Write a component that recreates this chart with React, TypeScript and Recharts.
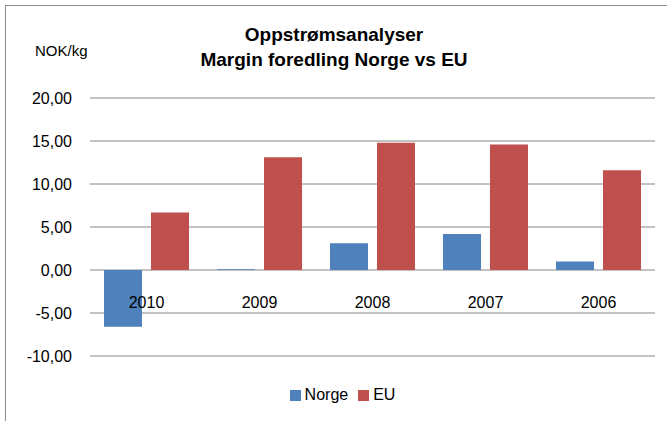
import React from 'react';
import { BarChart, Bar, XAxis, YAxis, CartesianGrid, Legend } from 'recharts';

// år (Excel-rekkefølge, nyeste først)
const years = ['2010', '2009', '2008', '2007', '2006'];
// margin foredling, NOK/kg
const norge = [-6.6, 0.1, 3.1, 4.2, 1.0];
const eu = [6.7, 13.1, 14.8, 14.6, 11.6];
const yTicks = [-10, -5, 0, 5, 10, 15, 20];
const seriesOrder = ['Norge', 'EU'];

const data = years.map((year, i) => ({ year, Norge: norge[i], EU: eu[i] }));

const font = '"Liberation Sans", Arial, sans-serif';

// årstall ligger rett under 0-linja, ikke under aksen nederst
const YearTick = (props: any) => {
  const { x, y, payload } = props;
  return (
    <text x={x} y={y - 48} textAnchor="middle" fontSize={16} fill="#000" fontFamily={font}>
      {payload.value}
    </text>
  );
};

export default function App() {
  return (
    <div
      style={{
        position: 'fixed',
        left: 0,
        top: 0,
        width: 667,
        height: 421,
        overflow: 'hidden',
        background: '#fff',
        fontFamily: font,
      }}
    >
      <div
        style={{
          position: 'absolute',
          left: 5,
          top: 5,
          width: 700,
          height: 500,
          border: '1px solid #8c8c8c',
        }}
      />
      <div
        style={{
          position: 'absolute',
          left: 0,
          width: 668,
          top: 22,
          textAlign: 'center',
          fontWeight: 'bold',
          fontSize: 19,
          lineHeight: '25px',
          color: '#000',
        }}
      >
        Oppstrømsanalyser
        <br />
        Margin foredling Norge vs EU
      </div>
      <div style={{ position: 'absolute', left: 35, top: 42, fontSize: 15, color: '#000' }}>NOK/kg</div>
      <div style={{ position: 'absolute', left: 0, top: 0 }}>
        <BarChart
          width={667}
          height={421}
          data={data}
          margin={{ top: 98, right: 12, left: 0, bottom: 5 }}
          barCategoryGap={14}
          barGap={9}
        >
          <CartesianGrid vertical={false} stroke="#868686" strokeWidth={1} />
          <XAxis
            dataKey="year"
            axisLine={false}
            tickLine={false}
            tickSize={0}
            tickMargin={0}
            height={30}
            interval={0}
            tick={<YearTick />}
          />
          <YAxis
            domain={[-10, 20]}
            ticks={yTicks}
            interval={0}
            width={90}
            axisLine={false}
            tickLine={false}
            tickSize={0}
            tickMargin={18}
            tick={{ fontSize: 16, fill: '#000', fontFamily: font }}
            tickFormatter={(v: number) => v.toFixed(2).replace('.', ',')}
          />
          <Legend
            verticalAlign="bottom"
            height={30}
            iconType="square"
            iconSize={11}
            itemSorter={(item: any) => seriesOrder.indexOf(item.value)}
            wrapperStyle={{ fontSize: 16, fontFamily: font, paddingLeft: 40, boxSizing: 'border-box' }}
            formatter={(value: string) => <span style={{ color: '#000' }}>{value}</span>}
          />
          <Bar dataKey="Norge" fill="#4F81BD" isAnimationActive={false} />
          <Bar dataKey="EU" fill="#C0504D" isAnimationActive={false} />
        </BarChart>
      </div>
    </div>
  );
}
